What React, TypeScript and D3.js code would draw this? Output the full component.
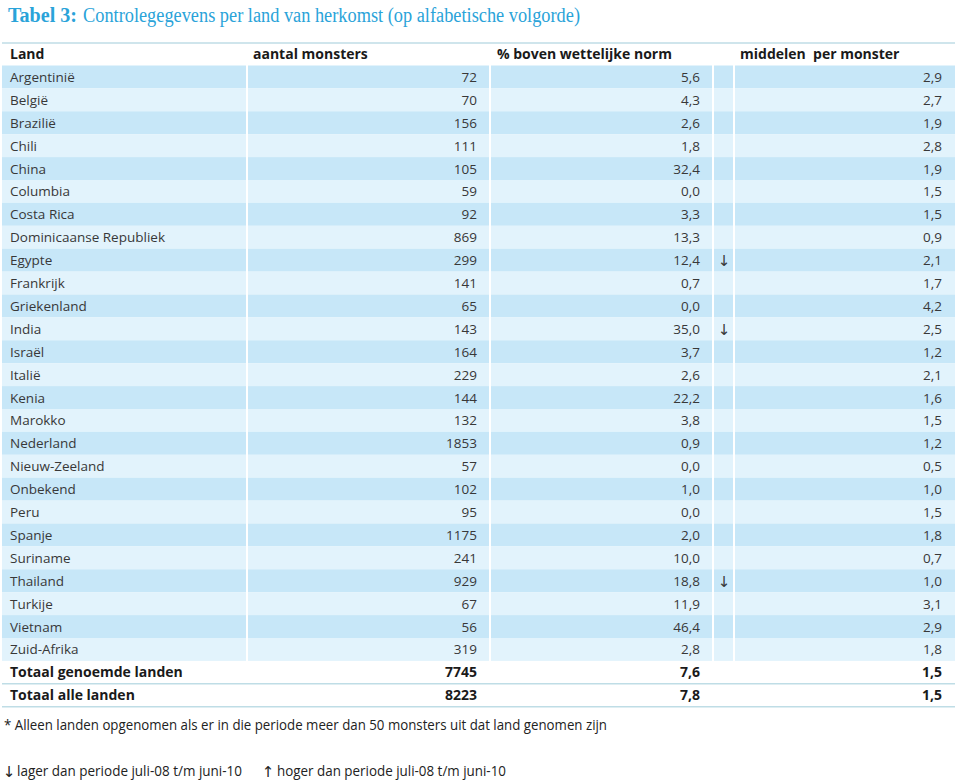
import React from "react";
import * as d3 from "d3";

const countries = [
  "Argentinië", "België", "Brazilië", "Chili", "China", "Columbia", "Costa Rica",
  "Dominicaanse Republiek", "Egypte", "Frankrijk", "Griekenland", "India", "Israël",
  "Italië", "Kenia", "Marokko", "Nederland", "Nieuw-Zeeland", "Onbekend", "Peru",
  "Spanje", "Suriname", "Thailand", "Turkije", "Vietnam", "Zuid-Afrika",
];
const samples = [72, 70, 156, 111, 105, 59, 92, 869, 299, 141, 65, 143, 164, 229, 144, 132, 1853, 57, 102, 95, 1175, 241, 929, 67, 56, 319];
const pctAbove = [5.6, 4.3, 2.6, 1.8, 32.4, 0.0, 3.3, 13.3, 12.4, 0.7, 0.0, 35.0, 3.7, 2.6, 22.2, 3.8, 0.9, 0.0, 1.0, 0.0, 2.0, 10.0, 18.8, 11.9, 46.4, 2.8];
const trend = ["", "", "", "", "", "", "", "", "down", "", "", "down", "", "", "", "", "", "", "", "", "", "", "down", "", "", ""];
const perSample = [2.9, 2.7, 1.9, 2.8, 1.9, 1.5, 1.5, 0.9, 2.1, 1.7, 4.2, 2.5, 1.2, 2.1, 1.6, 1.5, 1.2, 0.5, 1.0, 1.5, 1.8, 0.7, 1.0, 3.1, 2.9, 1.8];

const totalLabels = ["Totaal genoemde landen", "Totaal alle landen"];
const totalSamples = [7745, 8223];
const totalPct = [7.6, 7.8];
const totalPerSample = [1.5, 1.5];

const headers = ["Land", "aantal monsters", "% boven wettelijke norm", "middelen\u00a0 per monster"];
const title = "Tabel 3:";
const subtitle = "Controlegegevens per land van herkomst (op alfabetische volgorde)";
const footnote = "* Alleen landen opgenomen als er in die periode meer dan 50 monsters uit dat land genomen zijn";
const legendDown = "lager dan periode juli-08 t/m juni-10";
const legendUp = "hoger dan periode juli-08 t/m juni-10";

const W = 960;
const H = 780;
const FONT = "'Open Sans', 'Noto Sans', sans-serif";
const ARROWFONT = "'DejaVu Sans', sans-serif";
const DARK = "#c7e7f8";
const LIGHT = "#e2f3fc";
const LINE = "#bfdde6";
const TEXT = "#383838";
const BLUE = "#2aa3d9";

const fmt = (v: number) => v.toFixed(1).replace(".", ",");

export default function App() {
  const allRows = [...countries, ...totalLabels];
  const y = d3.scaleBand<string>().domain(allRows).range([65.5, 65.5 + 22.9 * allRows.length]).padding(0);
  const bh = y.bandwidth();

  const cols = [
    [2, 246],
    [248, 489],
    [491, 712],
    [714, 733],
    [735, 955],
  ];

  return (
    <svg width={W} height={H} style={{ position: "absolute", left: 0, top: 0, background: "#fff" }} fontFamily={FONT}>
      <g fontFamily="'Liberation Serif', serif" fontSize={20} fill={BLUE}>
        <text x={8} y={22} fontWeight="bold" textLength={69} lengthAdjust="spacingAndGlyphs">{title}</text>
        <text x={83} y={22} textLength={497} lengthAdjust="spacingAndGlyphs">{subtitle}</text>
      </g>

      <line x1={2} x2={955} y1={43} y2={43} stroke={LINE} strokeWidth={1.5} />
      <g fontSize={14} fontWeight="bold" fill="#1a1a1a">
        <text x={10} y={59}>{headers[0]}</text>
        <text x={253} y={59}>{headers[1]}</text>
        <text x={497} y={59}>{headers[2]}</text>
        <text x={740} y={59}>{headers[3]}</text>
      </g>

      {countries.map((c, i) => {
        const y0 = y(c)!;
        const fill = i % 2 === 0 ? DARK : LIGHT;
        const ty = y0 + bh / 2 + 5;
        return (
          <g key={c}>
            {cols.map(([a, b], j) => (
              <rect key={j} x={a} y={y0} width={b - a} height={bh} fill={fill} />
            ))}
            <g fontSize={13.5} fill={TEXT}>
              <text x={10} y={ty}>{c}</text>
              <text x={477} y={ty} textAnchor="end">{samples[i]}</text>
              <text x={700} y={ty} textAnchor="end">{fmt(pctAbove[i])}</text>
              {trend[i] && (
                <text x={724} y={ty + 1} textAnchor="middle" fontFamily={ARROWFONT} fontSize={15}>
                  {trend[i] === "down" ? "\u2193" : "\u2191"}
                </text>
              )}
              <text x={942} y={ty} textAnchor="end">{fmt(perSample[i])}</text>
            </g>
          </g>
        );
      })}

      {totalLabels.map((t, i) => {
        const y0 = y(t)!;
        const ty = y0 + bh / 2 + 5;
        return (
          <g key={t}>
            <line x1={2} x2={955} y1={y0 + bh} y2={y0 + bh} stroke={LINE} strokeWidth={1.5} />
            <g fontSize={14} fontWeight="bold" fill="#1a1a1a">
              <text x={10} y={ty}>{t}</text>
              <text x={477} y={ty} textAnchor="end">{totalSamples[i]}</text>
              <text x={700} y={ty} textAnchor="end">{fmt(totalPct[i])}</text>
              <text x={942} y={ty} textAnchor="end">{fmt(totalPerSample[i])}</text>
            </g>
          </g>
        );
      })}

      <text x={4} y={730} fontSize={14} fill="#222" textLength={603} lengthAdjust="spacingAndGlyphs">{footnote}</text>
      <g fontSize={14} fill="#222">
        <text x={9} y={777} fontFamily={ARROWFONT} fontSize={15} textAnchor="middle">{"\u2193"}</text>
        <text x={17} y={776} textLength={225} lengthAdjust="spacingAndGlyphs">{legendDown}</text>
        <text x={268} y={777} fontFamily={ARROWFONT} fontSize={15} textAnchor="middle">{"\u2191"}</text>
        <text x={277} y={776} textLength={229} lengthAdjust="spacingAndGlyphs">{legendUp}</text>
      </g>
    </svg>
  );
}
